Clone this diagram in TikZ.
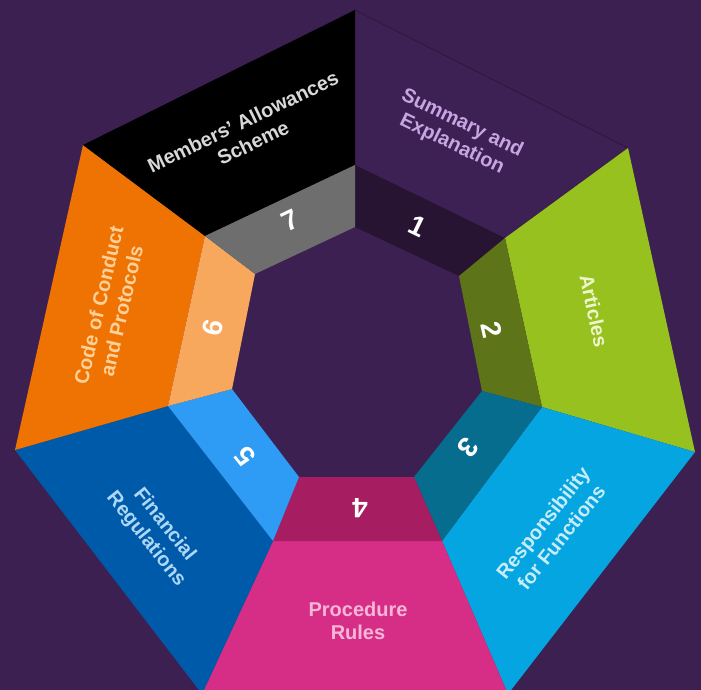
\documentclass[tikz,border=0pt]{standalone}
\usepackage{fontspec}
\setmainfont{Liberation Sans}
\definecolor{bg}{RGB}{60,32,82}
\definecolor{c1l}{RGB}{61,33,84}\definecolor{c1n}{RGB}{38,20,50}\definecolor{t1}{RGB}{200,165,225}
\definecolor{c2l}{RGB}{150,193,31}\definecolor{c2n}{RGB}{93,117,24}\definecolor{t2}{RGB}{238,246,205}
\definecolor{c3l}{RGB}{4,165,224}\definecolor{c3n}{RGB}{6,109,143}\definecolor{t3}{RGB}{200,236,250}
\definecolor{c4l}{RGB}{214,46,135}\definecolor{c4n}{RGB}{166,29,98}\definecolor{t4}{RGB}{246,182,216}
\definecolor{c5l}{RGB}{0,90,170}\definecolor{c5n}{RGB}{46,156,245}\definecolor{t5}{RGB}{172,216,246}
\definecolor{c6l}{RGB}{238,115,3}\definecolor{c6n}{RGB}{248,168,92}\definecolor{t6}{RGB}{255,208,152}
\definecolor{c7l}{RGB}{0,0,0}\definecolor{c7n}{RGB}{110,110,110}\definecolor{t7}{RGB}{216,216,216}
\definecolor{edge1}{RGB}{45,22,60}
\begin{document}
\begin{tikzpicture}[x=1pt,y=-1pt,
  lbl/.style={font=\bfseries\fontsize{20}{23.5}\selectfont, align=center, inner sep=0pt},
  num/.style={font=\bfseries\fontsize{28}{28}\selectfont, text=white, inner sep=0pt}]
\fill[bg] (0,0) rectangle (701,690);
\useasboundingbox (0,0) rectangle (701,690);
\clip (0,0) rectangle (701,690);
% outer vertices
\coordinate (O1) at (355,10);
\coordinate (O2) at (628,148);
\coordinate (O3) at (695,452);
\coordinate (O4) at (508,694);
\coordinate (O5) at (202,694);
\coordinate (O6) at (15,450);
\coordinate (O7) at (83,145);
% middle vertices
\coordinate (M1) at (355,165);
\coordinate (M2) at (505,238);
\coordinate (M3) at (542,407);
\coordinate (M4) at (442,541);
\coordinate (M5) at (273,541);
\coordinate (M6) at (168,406);
\coordinate (M7) at (205,236);
% inner vertices
\coordinate (I1) at (355,227);
\coordinate (I2) at (459,276);
\coordinate (I3) at (482,391);
\coordinate (I4) at (414,477);
\coordinate (I5) at (299,477);
\coordinate (I6) at (232,389);
\coordinate (I7) at (255,274);
% label bands
\fill[c1l] (O1) -- (O2) -- (M2) -- (M1) -- cycle;
\draw[edge1, line width=0.7pt, line join=round] (O1) -- (O2) -- (M2);
\fill[c2l] (O2) -- (O3) -- (M3) -- (M2) -- cycle;
\fill[c3l] (O3) -- (O4) -- (M4) -- (M3) -- cycle;
\fill[c4l] (O4) -- (O5) -- (M5) -- (M4) -- cycle;
\fill[c5l] (O5) -- (O6) -- (M6) -- (M5) -- cycle;
\fill[c6l] (O6) -- (O7) -- (M7) -- (M6) -- cycle;
\fill[c7l] (O7) -- (O1) -- (M1) -- (M7) -- cycle;
% number bands
\fill[c1n] (M1) -- (M2) -- (I2) -- (I1) -- cycle;
\fill[c2n] (M2) -- (M3) -- (I3) -- (I2) -- cycle;
\fill[c3n] (M3) -- (M4) -- (I4) -- (I3) -- cycle;
\fill[c4n] (M4) -- (M5) -- (I5) -- (I4) -- cycle;
\fill[c5n] (M5) -- (M6) -- (I6) -- (I5) -- cycle;
\fill[c6n] (M6) -- (M7) -- (I7) -- (I6) -- cycle;
\fill[c7n] (M7) -- (M1) -- (I1) -- (I7) -- cycle;
% labels
\node[lbl, text=t1, rotate=-25.7] (L1) at (457,134) {Summary and\\Explanation};
\node[lbl, text=t2, rotate=-78] (L2) at (594,311) {Articles};
\node[lbl, text=t3, rotate=51.4] (L3) at (552,530) {Responsibility\\for Functions};
\node[lbl, text=t4] (L4) at (358,621) {Procedure\\Rules};
\node[lbl, text=t5, rotate=-51.4] (L5) at (155,532) {Financial\\Regulations};
\node[lbl, text=t6, rotate=77] (L6) at (110,308) {Code of Conduct\\and Protocols};
\node[lbl, text=t7, rotate=25.7] (L7) at (248,132) {Members' Allowances\\Scheme};
% numbers
\node[num, rotate=-25.7] (N1) at (418,226) {1};
\node[num, rotate=-77.1] (N2) at (492,330) {2};
\node[num, rotate=-128.6] (N3) at (468,448) {3};
\node[num, rotate=180] (N4) at (360,508) {4};
\node[num, rotate=128.6] (N5) at (245,456) {5};
\node[num, rotate=77.1] (N6) at (213,328) {6};
\node[num, rotate=25.7] (N7) at (290,220) {7};
\end{tikzpicture}
\end{document}
